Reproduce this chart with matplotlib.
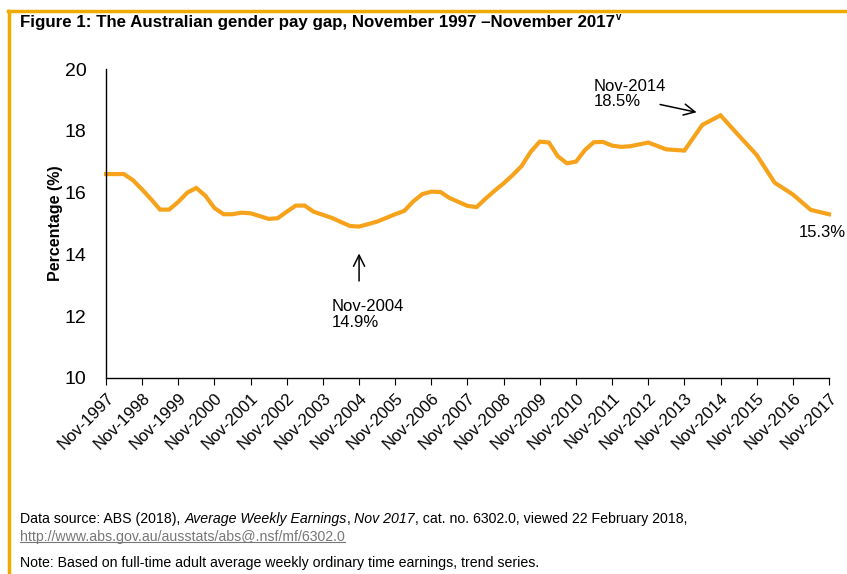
"""
Australian gender pay gap, Nov 1997 - Nov 2017 (ABS AWE, trend)
"""
import matplotlib.pyplot as plt
from matplotlib.lines import Line2D
import pandas as pd

plt.rcParams['font.family'] = ['Liberation Sans', 'DejaVu Sans']

# quarterly series Nov-1997 .. May-2012
quarterly_values = [16.6, 16.6, 16.6, 16.4, 16.1, 15.78, 15.45, 15.45, 15.7, 16.0,
                    16.15, 15.9, 15.5, 15.3, 15.3, 15.35, 15.33, 15.24, 15.15, 15.17,
                    15.38, 15.58, 15.58, 15.38, 15.28, 15.18, 15.05, 14.92, 14.9, 14.98,
                    15.06, 15.18, 15.3, 15.41, 15.71, 15.95, 16.03, 16.02, 15.83, 15.7,
                    15.57, 15.53, 15.8, 16.06, 16.3, 16.57, 16.86, 17.32, 17.65, 17.62,
                    17.18, 16.95, 17.0, 17.38, 17.63, 17.64, 17.52, 17.48, 17.5]
# biannual series from Nov-2012
biannual_dates = ['2012-11', '2013-05', '2013-11', '2014-05', '2014-11', '2015-05',
                  '2015-11', '2016-05', '2016-11', '2017-05', '2017-11']
biannual_values = [17.62, 17.4, 17.36, 18.19, 18.5, 17.86, 17.22, 16.32, 15.94, 15.44, 15.3]

tick_years = list(range(1997, 2018))

LINE = '#F7A21B'
FRAME = '#EFAA00'

dates = list(pd.date_range('1997-11-01', '2012-05-01', freq='3MS')) + \
    [pd.Timestamp(d + '-01') for d in biannual_dates]
values = quarterly_values + biannual_values

fig = plt.figure(figsize=(8.47, 5.74), dpi=100)
ax = fig.add_axes([106 / 847, 1 - 378 / 574, 723 / 847, 309 / 574])

ax.plot(dates, values, color=LINE, lw=3, solid_joinstyle='miter', clip_on=False)

ax.set_xlim(pd.Timestamp('1997-11-01'), pd.Timestamp('2017-11-01'))
ax.set_ylim(10, 20)
ax.set_yticks(range(10, 21, 2))
ax.set_xticks([pd.Timestamp(f'{y}-11-01') for y in tick_years])
ax.set_xticklabels([f'Nov-{y}' for y in tick_years], rotation=45, ha='right',
                   rotation_mode='anchor', fontsize=12)
ax.tick_params(axis='x', direction='out', length=5, pad=4)
ax.tick_params(axis='y', length=0, pad=14, labelsize=14)
ax.set_ylabel('Percentage (%)', fontsize=11.5, fontweight='bold', labelpad=1)
for s in ['top', 'right']:
    ax.spines[s].set_visible(False)
for s in ['left', 'bottom']:
    ax.spines[s].set_linewidth(1)

# annotations
arrow = dict(arrowstyle='->', color='black', lw=1.1, mutation_scale=20)
ax.annotate('', xy=(pd.Timestamp('2004-11-01'), 14.12), xytext=(pd.Timestamp('2004-11-01'), 13.05),
            arrowprops=arrow)
ax.text(pd.Timestamp('2004-02-01'), 12.55, 'Nov-2004\n14.9%', fontsize=12, va='top', ha='left',
        linespacing=1.05)
ax.annotate('', xy=(pd.Timestamp('2014-04-01'), 18.58), xytext=(pd.Timestamp('2013-02-01'), 18.87),
            arrowprops=arrow)
ax.text(pd.Timestamp('2011-05-01'), 19.68, 'Nov-2014\n18.5%', fontsize=12, va='top', ha='left',
        linespacing=1.05)
ax.text(pd.Timestamp('2017-01-01'), 14.72, '15.3%', fontsize=12, va='center', ha='left')

# title and frame
title = fig.text(20 / 847, 1 - 23 / 574,
                 'Figure 1: The Australian gender pay gap, November 1997 \u2013November 2017',
                 fontsize=12.2, fontweight='bold', va='center',
                 family=['Liberation Sans Narrow', 'Liberation Sans', 'DejaVu Sans'])
ax.annotate('v', xy=(1, 1), xycoords=title, xytext=(0.5, 2.5), textcoords='offset points',
            va='top', ha='left', fontsize=7, fontweight='bold', annotation_clip=False)
fig.add_artist(Line2D([8 / 847, 1], [1 - 11 / 574, 1 - 11 / 574], color=FRAME, lw=2.5))
fig.add_artist(Line2D([8.5 / 847, 8.5 / 847], [0, 1 - 11 / 574], color=FRAME, lw=2.5))

# footnotes
fs = 10.2
t1 = fig.text(20 / 847, 1 - 519 / 574, 'Data source: ABS (2018), ', fontsize=fs, va='center')
t2 = ax.annotate('Average Weekly Earnings', xy=(1, 0), xycoords=t1, va='bottom', ha='left',
                 fontsize=fs, style='italic', annotation_clip=False)
t3 = ax.annotate(', ', xy=(1, 0), xycoords=t2, va='bottom', ha='left', fontsize=fs,
                 annotation_clip=False)
t4 = ax.annotate('Nov 2017', xy=(1, 0), xycoords=t3, va='bottom', ha='left', fontsize=fs,
                 style='italic', annotation_clip=False)
ax.annotate(', cat. no. 6302.0, viewed 22 February 2018,', xy=(1, 0), xycoords=t4, va='bottom',
            ha='left', fontsize=fs, annotation_clip=False)
url = fig.text(20 / 847, 1 - 537 / 574, 'http://www.abs.gov.au/ausstats/abs@.nsf/mf/6302.0',
               fontsize=fs, va='center', color='#777777')
fig.text(20 / 847, 1 - 563 / 574,
         'Note: Based on full-time adult average weekly ordinary time earnings, trend series.',
         fontsize=fs, va='center')

fig.canvas.draw()
bb = url.get_window_extent().transformed(fig.transFigure.inverted())
fig.add_artist(Line2D([bb.x0, bb.x1], [bb.y0 + 0.003, bb.y0 + 0.003], color='#777777', lw=0.8))

fig.savefig('out.png', dpi=100)
